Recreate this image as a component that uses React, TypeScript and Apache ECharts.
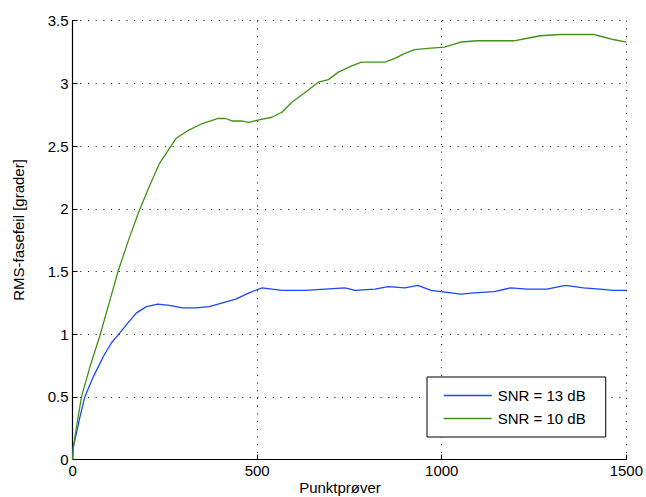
import React, { useEffect, useRef } from "react";
import * as echarts from "echarts";

// Sample index (x) and RMS phase error in degrees (y) for each SNR
const snr13X = [0, 2, 20, 33, 56, 83, 105, 128, 150, 173, 200, 231, 262, 298, 334, 370, 406, 442, 478, 513, 567, 630, 684, 738, 765, 819, 855, 900, 935, 971, 998, 1052, 1088, 1142, 1187, 1232, 1285, 1335, 1384, 1429, 1465, 1500];
const snr13Y = [0, 0.1, 0.34, 0.5, 0.66, 0.82, 0.93, 1.01, 1.09, 1.17, 1.22, 1.24, 1.23, 1.21, 1.21, 1.22, 1.25, 1.28, 1.33, 1.37, 1.35, 1.35, 1.36, 1.37, 1.35, 1.36, 1.38, 1.37, 1.39, 1.35, 1.34, 1.32, 1.33, 1.34, 1.37, 1.36, 1.36, 1.39, 1.37, 1.36, 1.35, 1.35];

const snr10X = [0, 2, 10, 24, 47, 74, 101, 123, 155, 180, 208, 235, 262, 280, 316, 352, 392, 415, 433, 460, 478, 505, 540, 567, 594, 626, 666, 693, 720, 756, 783, 846, 873, 900, 927, 962, 1007, 1052, 1097, 1142, 1196, 1232, 1267, 1321, 1375, 1411, 1438, 1465, 1500];
const snr10Y = [0, 0.1, 0.25, 0.5, 0.74, 0.99, 1.27, 1.5, 1.78, 1.98, 2.18, 2.36, 2.48, 2.56, 2.63, 2.68, 2.72, 2.72, 2.7, 2.7, 2.69, 2.71, 2.73, 2.77, 2.85, 2.92, 3.01, 3.03, 3.09, 3.14, 3.17, 3.17, 3.2, 3.24, 3.27, 3.28, 3.29, 3.33, 3.34, 3.34, 3.34, 3.36, 3.38, 3.39, 3.39, 3.39, 3.37, 3.35, 3.33];

const seriesNames = ["SNR = 13 dB", "SNR = 10 dB"];
const xTitle = "Punktprøver";
const yTitle = "RMS-fasefeil [grader]";

const FONT = "'Liberation Sans', Arial, Helvetica, sans-serif";

const pairs = (xs: number[], ys: number[]) => xs.map((x, i) => [x, ys[i]]);

const dotted = { color: "#000", width: 1, type: [1, 6.7] as number[] };

export default function App() {
  const ref = useRef<HTMLDivElement>(null);

  useEffect(() => {
    if (!ref.current) return;
    const chart = echarts.init(ref.current, undefined, { renderer: "svg" });
    chart.setOption({
      animation: false,
      backgroundColor: "#fff",
      grid: { left: 72.6, right: 16.3, top: 20.7, bottom: 37.4, containLabel: false },
      xAxis: {
        type: "value",
        min: 0,
        max: 1500,
        interval: 500,
        axisLine: { show: true, lineStyle: { color: "#000", width: 1.2 } },
        axisTick: { show: true, inside: true, length: 5, lineStyle: { color: "#000" } },
        axisLabel: {
          color: "#000",
          fontSize: 15,
          fontFamily: FONT,
          margin: 3,
          formatter: (v: number) => String(v),
        },
        splitLine: { show: true, lineStyle: dotted },
      },
      yAxis: {
        type: "value",
        min: 0,
        max: 3.5,
        interval: 0.5,
        axisLine: { show: true, lineStyle: { color: "#000", width: 1.2 } },
        axisTick: { show: true, inside: true, length: 5, lineStyle: { color: "#000" } },
        axisLabel: {
          color: "#000",
          fontSize: 15,
          fontFamily: FONT,
          margin: 4,
          formatter: (v: number) => String(v),
        },
        splitLine: { show: true, lineStyle: dotted },
      },
      legend: {
        left: 427,
        top: 377,
        orient: "vertical",
        data: seriesNames,
        itemWidth: 48,
        itemHeight: 14,
        itemGap: 8,
        padding: [11, 20, 11, 16],
        backgroundColor: "#fff",
        borderColor: "#000",
        borderWidth: 1,
        borderRadius: 0,
        itemStyle: { opacity: 0 },
        lineStyle: { width: 1.5 },
        textStyle: { color: "#000", fontSize: 15, fontFamily: FONT, padding: [0, 0, 0, 1] },
      },
      graphic: [
        {
          type: "text",
          x: 340,
          y: 487,
          style: {
            text: xTitle,
            fill: "#000",
            font: `15px ${FONT}`,
            textAlign: "center",
            textVerticalAlign: "middle",
          },
        },
        {
          type: "text",
          x: 18.5,
          y: 230,
          rotation: Math.PI / 2,
          style: {
            text: yTitle,
            fill: "#000",
            font: `15px ${FONT}`,
            textAlign: "center",
            textVerticalAlign: "middle",
          },
        },
      ],
      series: [
        {
          name: seriesNames[0],
          type: "line",
          data: pairs(snr13X, snr13Y),
          showSymbol: false,
          symbol: "none",
          lineStyle: { color: "#1c46ff", width: 1.3 },
          itemStyle: { color: "#1c46ff" },
        },
        {
          name: seriesNames[1],
          type: "line",
          data: pairs(snr10X, snr10Y),
          showSymbol: false,
          symbol: "none",
          lineStyle: { color: "#3f9314", width: 1.3 },
          itemStyle: { color: "#3f9314" },
        },
      ],
    });
    return () => chart.dispose();
  }, []);

  return (
    <div
      ref={ref}
      style={{ position: "absolute", left: 0, top: 0, width: 646, height: 497 }}
    />
  );
}
